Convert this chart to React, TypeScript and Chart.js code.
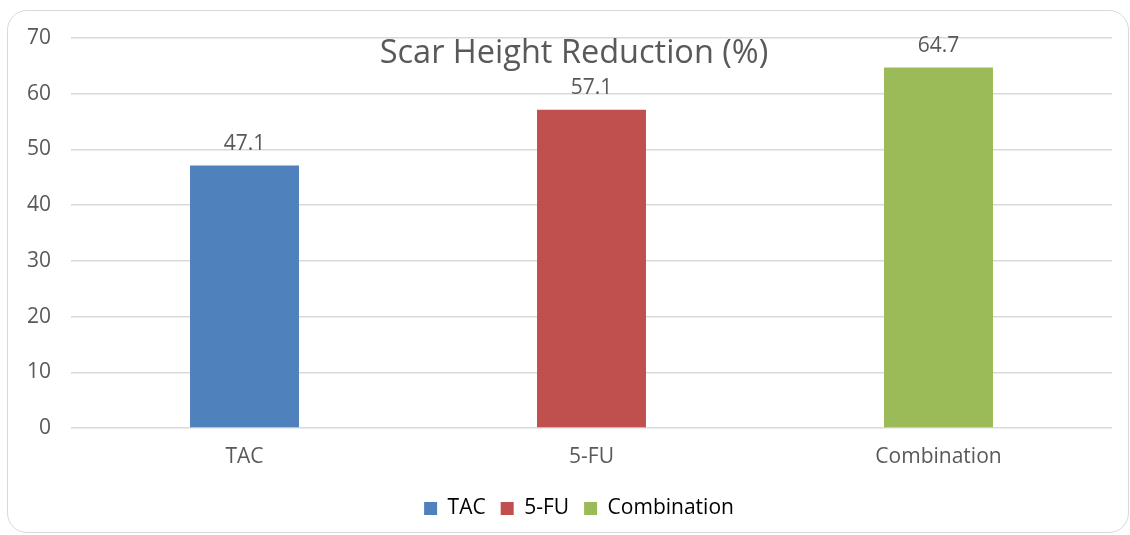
import React, { useEffect, useRef } from "react";
import { Chart, registerables } from "chart.js";

Chart.register(...registerables);

const categories = ["TAC", "5-FU", "Combination"];
const values = [47.1, 57.1, 64.7];
const barColors = ["#4F81BD", "#C0504D", "#9BBB59"];
const yTicks = [0, 10, 20, 30, 40, 50, 60, 70];
const chartTitle = "Scar Height Reduction (%)";

const FONT = "'Open Sans', 'DejaVu Sans', sans-serif";
const TEXT = "#595959";

const overlayPlugin = {
  id: "overlayText",
  afterLayout(chart: any) {
    if (chart.legend) {
      chart.legend.left += 19;
      chart.legend.right += 19;
    }
  },
  afterDatasetsDraw(chart: any) {
    const ctx = chart.ctx;
    const meta = chart.getDatasetMeta(0);
    ctx.save();
    ctx.fillStyle = TEXT;
    ctx.font = `21px ${FONT}`;
    ctx.textAlign = "center";
    ctx.textBaseline = "middle";
    meta.data.forEach((bar: any, i: number) => {
      ctx.fillText(values[i].toFixed(1), bar.x, bar.y - 22);
    });
    ctx.font = `32.5px ${FONT}`;
    ctx.fillText(chartTitle, 574, 54);
    ctx.restore();
  },
};

export default function App() {
  const ref = useRef<HTMLCanvasElement | null>(null);
  useEffect(() => {
    if (!ref.current) return;
    const chart = new Chart(ref.current, {
      type: "bar",
      data: {
        labels: categories,
        datasets: [
          {
            label: "Scar Height Reduction (%)",
            data: values,
            backgroundColor: barColors,
            borderWidth: 0,
            categoryPercentage: 1,
            barPercentage: 0.314,
          },
        ],
      },
      options: {
        responsive: false,
        animation: false,
        maintainAspectRatio: false,
        layout: { padding: { left: 8, right: 18, top: 38, bottom: 6 } },
        plugins: {
          title: { display: false },
          tooltip: { enabled: false },
          legend: {
            display: true,
            position: "bottom",
            onClick: () => {},
            labels: {
              boxWidth: 13,
              boxHeight: 13,
              padding: 15,
              color: TEXT,
              font: { family: FONT, size: 21 },
              generateLabels: () =>
                categories.map((c, i) => ({
                  text: c,
                  fillStyle: barColors[i],
                  strokeStyle: barColors[i],
                  lineWidth: 0,
                  hidden: false,
                  datasetIndex: 0,
                  index: i,
                })),
            },
          },
        },
        scales: {
          x: {
            grid: { display: false, drawTicks: false },
            border: { display: false },
            ticks: {
              color: TEXT,
              font: { family: FONT, size: 21 },
              padding: 16,
            },
            afterFit: (s: any) => {
              s.height = 55;
            },
          },
          y: {
            min: 0,
            max: 70,
            afterBuildTicks: (s: any) => {
              s.ticks = yTicks.map((v) => ({ value: v }));
            },
            grid: { color: "#d9d9d9", lineWidth: 1.5, drawTicks: false },
            border: { display: false },
            ticks: {
              color: TEXT,
              font: { family: FONT, size: 21 },
              padding: 20,
            },
            afterFit: (s: any) => {
              s.width = 63;
            },
          },
        },
      },
      plugins: [overlayPlugin],
    });
    return () => chart.destroy();
  }, []);
  return (
    <div style={{ position: "absolute", left: 0, top: 0, width: 1130, height: 535, background: "#fff" }}>
      <div
        style={{
          position: "absolute",
          left: 7,
          top: 10,
          width: 1120,
          height: 521,
          border: "1.5px solid #d9d9d9",
          borderRadius: 20,
        }}
      />
      <canvas ref={ref} width={1130} height={535} style={{ position: "absolute", left: 0, top: 0 }} />
    </div>
  );
}
